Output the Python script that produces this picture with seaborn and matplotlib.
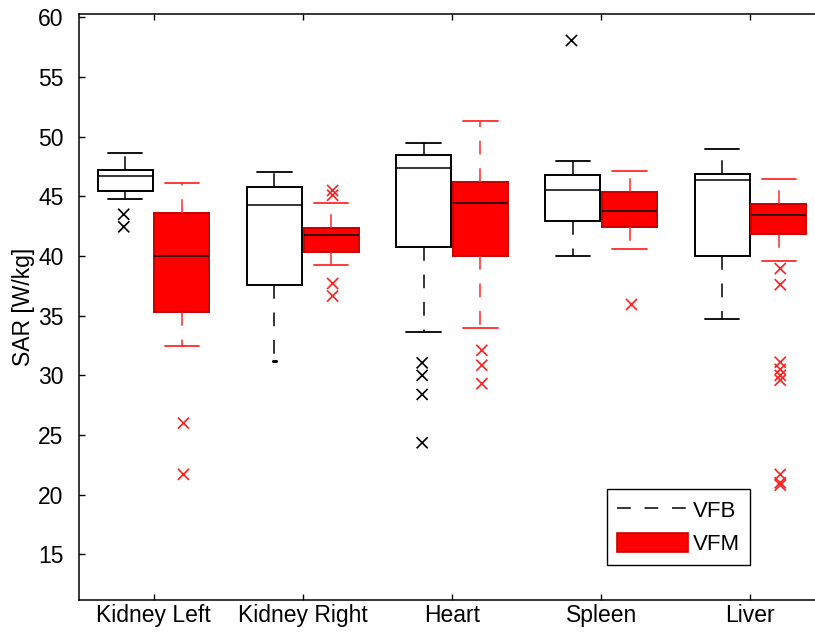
import numpy as np
import pandas as pd
import matplotlib
matplotlib.use("Agg")
import matplotlib.pyplot as plt
import seaborn as sns
from matplotlib.lines import Line2D
from matplotlib.patches import Patch

organs = ["Kidney Left", "Kidney Right", "Heart", "Spleen", "Liver"]
methods = ["VFB", "VFM"]

# Box summaries per organ: lower whisker, Q1, median, Q3, upper whisker (W/kg)
vfb_whisker_low = [44.8, 31.2, 33.6, 40.0, 34.7]
vfb_q1 = [45.45, 37.55, 40.75, 42.9, 40.0]
vfb_median = [46.7, 44.25, 47.4, 45.5, 46.4]
vfb_q3 = [47.2, 45.8, 48.45, 46.8, 46.9]
vfb_whisker_high = [48.6, 47.05, 49.45, 48.0, 49.0]

vfm_whisker_low = [32.5, 39.25, 34.0, 40.6, 39.6]
vfm_q1 = [35.3, 40.3, 40.0, 42.4, 41.85]
vfm_median = [40.0, 41.8, 44.45, 43.8, 43.45]
vfm_q3 = [43.65, 42.35, 46.2, 45.4, 44.35]
vfm_whisker_high = [46.15, 44.45, 51.35, 47.1, 46.45]

# Outlying values per organ
vfb_outliers = [[43.5, 42.45], [], [31.05, 30.0, 28.4, 24.35], [58.15], []]
vfm_outliers = [[26.0, 21.7],
                [45.5, 45.1, 37.7, 36.65],
                [32.1, 30.85, 29.3],
                [36.0],
                [38.95, 37.6, 31.1, 30.5, 30.0, 29.6, 21.7, 21.0, 20.8]]

summaries = {
    "VFB": [vfb_whisker_low, vfb_q1, vfb_median, vfb_q3, vfb_whisker_high],
    "VFM": [vfm_whisker_low, vfm_q1, vfm_median, vfm_q3, vfm_whisker_high],
}
outliers = {"VFB": vfb_outliers, "VFM": vfm_outliers}

rows = []
for method, parts in summaries.items():
    for i, organ in enumerate(organs):
        for part in parts:
            rows.append({"organ": organ, "method": method, "SAR": part[i]})
box_df = pd.DataFrame(rows)

out_rows = []
for method, per_organ in outliers.items():
    for organ, vals in zip(organs, per_organ):
        for v in vals:
            out_rows.append({"organ": organ, "method": method, "SAR": v})
out_df = pd.DataFrame(out_rows)

sns.set_theme(style="ticks")
plt.rcParams["font.family"] = ["Liberation Sans", "DejaVu Sans"]
plt.rcParams["text.color"] = "black"
plt.rcParams["axes.labelcolor"] = "black"

fig = plt.figure(figsize=(8.15, 6.32), dpi=100)
ax = fig.add_axes([79 / 815, 32 / 632, 746 / 815, 586 / 632])

dash = (0, (9, 9))
styles = {
    "VFB": dict(face="white", edge="black", line="black", marker="black"),
    "VFM": dict(face="red", edge="#c80000", line="#ff2a2a", marker="#ff2020"),
}

for method in methods:
    st = styles[method]
    sns.boxplot(
        data=box_df[box_df["method"] == method], x="organ", y="SAR",
        hue="method", order=organs, hue_order=methods, dodge=True,
        palette={m: styles[m]["face"] for m in methods},
        width=0.76, gap=0.03, whis=(0, 100), showfliers=False,
        saturation=1, linecolor=st["line"], linewidth=1.1, legend=False,
        boxprops=dict(edgecolor=st["edge"], linewidth=1.4),
        medianprops=dict(color="black", linewidth=1.1),
        whiskerprops=dict(color=st["line"], linestyle=dash, linewidth=1.1),
        capprops=dict(color=st["line"], linewidth=1.3),
        capwidths=0.23, ax=ax,
    )

# The lower cap of the right-kidney VFB box is drawn as a single dot
for ln in ax.lines:
    y = np.asarray(ln.get_ydata(), dtype=float)
    x = np.asarray(ln.get_xdata(), dtype=float)
    if len(y) == 2 and np.allclose(y, vfb_whisker_low[1]) and x[0] != x[1]:
        c = x.mean()
        ln.set_xdata([c - 0.008, c + 0.008])
        ln.set_linewidth(2.2)

for method in methods:
    sub = out_df[out_df["method"] == method]
    sns.stripplot(
        data=sub, x="organ", y="SAR", hue="method", order=organs,
        hue_order=methods, dodge=True, jitter=False, marker="x", s=8,
        linewidth=1.2, palette={m: styles[m]["marker"] for m in methods},
        legend=False, ax=ax,
    )

ax.set_xlim(-0.5, 4.5)
ax.set_ylim(11.17, 60.29)
ax.set_yticks(np.arange(15, 61, 5))
ax.set_xlabel("")
ax.set_ylabel("SAR [W/kg]", fontsize=16.5, labelpad=2, color="black")
ax.tick_params(axis="both", direction="in", length=4, width=1, labelsize=16.5,
               top=True, right=False, color="black", labelcolor="black")
ax.tick_params(axis="x", pad=3)
ax.tick_params(axis="y", pad=11)
for name, sp in ax.spines.items():
    sp.set_visible(name != "right")
    sp.set_color("black")
    sp.set_linewidth(1.1)

handles = [
    Line2D([0], [0], color="black", linestyle=dash, linewidth=1.1),
    Patch(facecolor="red", edgecolor="#c80000", linewidth=1.2),
]
leg = ax.legend(handles, methods, loc="lower right", bbox_to_anchor=(0.9, 0.06),
                fontsize=16, frameon=True, fancybox=False, edgecolor="black",
                framealpha=1, handlelength=3.2, handleheight=0.95,
                labelspacing=0.5, handletextpad=0.25, borderpad=0.45,
                borderaxespad=0, labelcolor="black")
leg.get_frame().set_linewidth(1.0)

fig.savefig("out.png", dpi=100)
